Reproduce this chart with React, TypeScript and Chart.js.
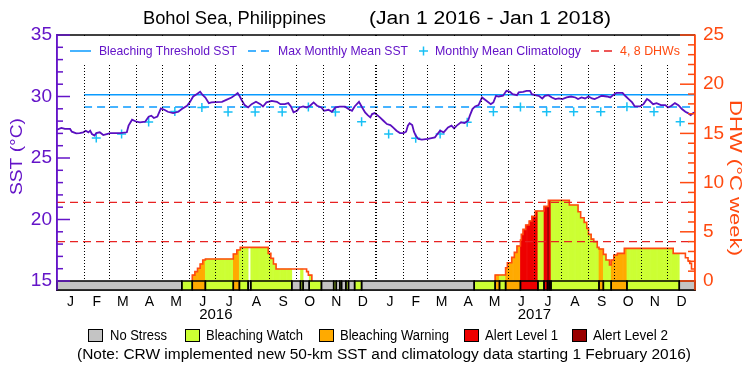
import React, { useEffect, useRef } from 'react';
import { Chart, registerables } from 'chart.js';
Chart.register(...registerables);

const FF = '"Liberation Sans", Arial, sans-serif';

// ---- data (day index from Jan 1 2016) ----
const sstDay = [0,5,9,15,17,22,26,30,33,36,38,40,43,45,49,53,57,61,72,80,82,86,91,95,101,105,108,111,115,119,123,127,133,139,143,149,152,156,160,164,166,170,174,177,181,189,194,200,204,207,209,212,215,219,223,228,233,236,240,246,252,256,261,265,268,271,275,278,282,286,290,294,298,303,306,311,315,319,324,330,334,338,341,346,349,353,356,359,361,364,367,370,374,378,382,385,389,393,397,400,402,404,407,409,411,414,418,425,433,435,439,443,448,452,455,458,463,467,471,473,476,479,483,487,492,497,500,503,506,511,515,519,522,527,529,534,538,542,544,548,552,556,559,563,567,571,575,579,584,589,594,597,601,605,609,613,616,620,624,630,634,637,641,648,651,655,659,662,668,672,676,679,683,687,692,697,700,704,708,712,716,720,723,726,729,731];
const sstVal = [27.30,27.44,27.36,27.36,27.14,27.00,27.03,27.09,27.22,27.09,27.22,26.95,26.82,27.03,27.09,26.87,26.95,27.03,27.03,27.09,27.63,28.11,27.95,27.90,27.95,28.36,28.44,28.25,28.36,29.03,28.92,28.76,28.65,28.76,28.98,29.25,29.52,30.00,30.19,30.38,30.19,29.92,29.46,29.52,29.55,29.57,29.73,29.92,30.11,30.28,30.06,29.65,29.30,29.11,29.38,29.57,29.38,29.19,29.52,29.65,29.57,29.38,29.38,29.46,29.19,28.71,28.84,29.11,29.19,29.11,29.25,29.52,29.25,29.11,28.84,28.92,28.76,29.11,29.17,29.17,28.98,28.84,29.19,29.57,29.19,28.71,28.49,28.30,28.57,28.65,28.49,28.30,28.03,27.76,27.68,27.49,27.22,27.03,27.03,27.14,27.63,27.82,27.68,27.14,26.82,26.55,26.49,26.55,26.68,26.87,27.22,27.09,27.49,27.63,27.41,27.63,27.90,27.84,28.03,28.44,28.98,29.19,29.30,29.92,29.65,29.38,29.52,30.06,30.00,30.06,30.46,30.38,30.19,30.11,30.33,30.38,30.46,30.46,30.19,30.11,30.06,29.84,30.06,30.11,29.92,29.79,29.84,29.79,29.92,30.00,29.92,29.79,29.92,29.84,30.00,29.84,29.79,29.92,30.06,30.00,29.92,30.11,30.30,30.30,30.06,29.79,29.52,29.19,29.19,29.38,29.79,29.65,29.38,29.46,29.30,29.30,29.11,29.25,29.46,29.30,28.98,28.76,28.65,28.49,28.65,28.71];

const climDay = [45,74,105,135,166,196,227,258,288,319,349,380,411,439,470,500,531,561,592,623,653,684,714];
const climVal = [26.62,26.95,27.92,28.78,29.10,28.73,28.73,28.73,29.15,28.73,27.95,26.95,26.60,26.95,27.90,28.76,29.15,28.76,28.76,28.76,29.17,28.76,27.95];

const thresholdSST = 30.15;
const mmmSST = 29.15;
const refStartDay = 31;
const dhwLevels = [4, 8];

const dhwDay = [155,155,158,161,164,167,170,202,206,210,242,245,248,251,286,288,292,400,502,502,514,516,521,524,527,531,532,534,537,541,544,548,558,563,587,597,600,604,607,609,612,615,619,621,626,629,633,635,638,642,650,706,720,723,725,727,731];
const dhwVal = [0,0.6,0.95,1.29,1.73,2.13,2.23,2.74,3.15,3.42,2.81,2.3,1.73,1.22,0.95,0.6,0,null,0,0.61,1.35,1.86,2.40,2.91,3.55,4.16,4.74,5.25,5.69,6.09,6.57,7.11,7.58,8.19,7.72,7.04,6.43,5.96,5.35,4.74,4.26,4.0,3.42,3.25,2.71,2.13,1.62,2.13,2.64,2.81,3.32,2.81,2.37,2.03,1.79,1.22,1.22];

const stressStart = [0,143,155,170,202,209,219,222,269,279,282,289,303,317,320,324,326,331,334,341,349,478,502,507,514,531,551,558,562,564,566,621,626,635,653,713];
const stressLevel = [0,1,2,1,2,1,0,1,0,1,0,1,0,1,0,1,0,1,0,1,0,1,2,1,2,3,1,3,4,3,1,2,1,2,1,0];
const stressNames = ['No Stress', 'Bleaching Watch', 'Bleaching Warning', 'Alert Level 1', 'Alert Level 2'];
const stressColors = ['#c4c4c4', '#ccff33', '#ffaa00', '#ee0000', '#990000'];

const monthStarts = [0,31,60,91,121,152,182,213,244,274,305,335,366,397,425,456,486,517,547,578,609,639,670,700,731];
const monthLetters = ['J','F','M','A','M','J','J','A','S','O','N','D','J','F','M','A','M','J','J','A','S','O','N','D'];
const yearLabels = ['2016', '2017'];
const yearMidDay = [182, 547];
const sstTicks = [15, 20, 25, 30, 35];
const dhwTicks = [0, 5, 10, 15, 20, 25];

const PURPLE = '#6414c8';
const SSTLINE = '#5a0fc0';
const ORANGE = '#ff4a10';
const BLUE = '#0a9bff';
const CROSS = '#18c0f5';
const DHWRED = '#e82222';

function fitText(ctx: CanvasRenderingContext2D, text: string, x: number, y: number, w: number, size: number, color: string) {
  ctx.save();
  ctx.font = `${size}px ${FF}`;
  ctx.fillStyle = color;
  ctx.textBaseline = 'middle';
  ctx.textAlign = 'left';
  const m = ctx.measureText(text).width;
  ctx.translate(x, y);
  ctx.scale(w / m, 1);
  ctx.fillText(text, 0, 0);
  ctx.restore();
}

function line(ctx: CanvasRenderingContext2D, x1: number, y1: number, x2: number, y2: number, color: string, w: number, dash: number[] = []) {
  ctx.save();
  ctx.strokeStyle = color;
  ctx.lineWidth = w;
  ctx.setLineDash(dash);
  ctx.beginPath();
  ctx.moveTo(x1, y1);
  ctx.lineTo(x2, y2);
  ctx.stroke();
  ctx.restore();
}

function dhwAt(d: number) {
  let v = 0;
  for (let i = 0; i < dhwDay.length; i++) {
    if (dhwDay[i] <= d) v = dhwVal[i] == null ? 0 : (dhwVal[i] as number);
  }
  return v;
}
function levelAt(d: number) {
  let l = 0;
  for (let i = 0; i < stressStart.length; i++) if (stressStart[i] <= d) l = stressLevel[i];
  return l;
}

const decor = {
  id: 'decor',
  afterDraw(chart: any) {
    const { ctx, chartArea: a, scales } = chart;
    const xs = scales.x, ys = scales.y, y2 = scales.y2;
    // legend area cover
    ctx.save();
    ctx.fillStyle = '#fff';
    ctx.fillRect(a.left + 1, a.top + 1, a.right - a.left - 2, 28);
    ctx.restore();
    // top frame
    line(ctx, a.left, a.top, a.right, a.top, '#000', 1.5);

    // stress bar
    const yTop = y2.getPixelForValue(0);
    const yBot = a.bottom;
    for (let i = 0; i < stressStart.length; i++) {
      const s = stressStart[i];
      const e = i + 1 < stressStart.length ? stressStart[i + 1] : xs.max;
      const x1 = xs.getPixelForValue(s), x2 = xs.getPixelForValue(e);
      ctx.fillStyle = stressColors[stressLevel[i]];
      ctx.fillRect(x1, yTop, x2 - x1, yBot - yTop);
    }
    ctx.save();
    ctx.strokeStyle = '#000';
    ctx.lineWidth = 1.5;
    for (let i = 0; i < stressStart.length; i++) {
      const s = stressStart[i];
      const e = i + 1 < stressStart.length ? stressStart[i + 1] : xs.max;
      const x1 = xs.getPixelForValue(s), x2 = xs.getPixelForValue(e);
      ctx.strokeRect(x1, yTop, x2 - x1, yBot - yTop);
    }
    ctx.restore();

    // inward axis ticks
    for (let v = 15; v <= 35; v++) {
      const y = ys.getPixelForValue(v);
      line(ctx, a.left, y, a.left + (v % 5 === 0 ? 13 : 6), y, PURPLE, 1.5);
    }
    for (let v = 0; v <= 25; v++) {
      const y = y2.getPixelForValue(v);
      line(ctx, a.right - (v % 5 === 0 ? 15 : 7), y, a.right, y, ORANGE, 1.5);
    }
    line(ctx, a.left, a.top, a.left, a.bottom, PURPLE, 1.5);
    line(ctx, a.right, a.top, a.right, a.bottom, ORANGE, 1.5);

    // title
    fitText(ctx, 'Bohol Sea, Philippines', 143, 19, 183, 18, '#000');
    fitText(ctx, '(Jan 1 2016 - Jan 1 2018)', 369, 19, 242, 18, '#000');

    // top legend
    const ly = 51;
    line(ctx, 70, ly, 91, ly, BLUE, 1.5);
    fitText(ctx, 'Bleaching Threshold SST', 99, ly, 138, 13, PURPLE);
    line(ctx, 248, ly, 272, ly, BLUE, 1.5, [8, 5]);
    fitText(ctx, 'Max Monthly Mean SST', 278, ly, 130, 13, PURPLE);
    line(ctx, 419, ly, 428, ly, CROSS, 1.5);
    line(ctx, 423.5, ly - 4.5, 423.5, ly + 4.5, CROSS, 1.5);
    fitText(ctx, 'Monthly Mean Climatology', 435, ly, 146, 13, PURPLE);
    line(ctx, 591, ly, 616, ly, DHWRED, 1.5, [8, 5]);
    fitText(ctx, '4, 8 DHWs', 620, ly, 60, 13, ORANGE);

    // axis titles
    ctx.save();
    ctx.translate(17, 157);
    ctx.rotate(-Math.PI / 2);
    fitText(ctx, 'SST (°C)', -38, 0, 77, 17, PURPLE);
    ctx.restore();
    ctx.save();
    ctx.translate(735, 178);
    ctx.rotate(Math.PI / 2);
    fitText(ctx, 'DHW (°C week)', -78, 0, 156, 17, ORANGE);
    ctx.restore();

    // year labels
    ctx.save();
    ctx.font = `15px ${FF}`;
    ctx.fillStyle = '#000';
    ctx.textAlign = 'center';
    ctx.textBaseline = 'middle';
    yearLabels.forEach((t, i) => ctx.fillText(t, xs.getPixelForValue(yearMidDay[i]), 315));
    ctx.restore();

    // bottom legend
    const boxX = [88, 185, 319, 464, 572];
    const txtX = [110, 206, 340, 485, 593];
    const txtW = [57, 97, 109, 73, 75];
    stressNames.forEach((n, i) => {
      ctx.save();
      ctx.fillStyle = stressColors[i];
      ctx.fillRect(boxX[i], 329, 14, 12);
      ctx.strokeStyle = '#000';
      ctx.lineWidth = 1;
      ctx.strokeRect(boxX[i] + 0.5, 329.5, 14, 12);
      ctx.restore();
      fitText(ctx, n, txtX[i], 336, txtW[i], 14, '#000');
    });
    fitText(ctx, '(Note: CRW implemented new 50-km SST and climatology data starting 1 February 2016)', 77, 355, 614, 14, '#000');
  },
};

export default function App() {
  const ref = useRef<HTMLCanvasElement>(null);
  useEffect(() => {
    const canvas = ref.current!;
    const sstData = sstDay.map((d, i) => ({ x: d, y: sstVal[i] }));
    const climData = climDay.map((d, i) => ({ x: d, y: climVal[i] }));
    const dhwData = dhwDay.map((d, i) => ({ x: d, y: dhwVal[i] }));
    const fillData: any[] = [];
    const fillColors: string[] = [];
    for (let d = 0; d < 731; d++) {
      const v = dhwAt(d);
      const l = levelAt(d);
      if (v > 0 && l > 0) {
        fillData.push({ x: d + 0.5, y: v });
        fillColors.push(stressColors[l]);
      }
    }
    const chart = new Chart(canvas, {
      type: 'line',
      data: {
        datasets: [
          { type: 'bar', data: fillData, xAxisID: 'x', yAxisID: 'y2', backgroundColor: fillColors, borderWidth: 0, barPercentage: 1, categoryPercentage: 1, grouped: false, order: 10 } as any,
          { data: dhwData, xAxisID: 'x', yAxisID: 'y2', stepped: 'before', borderColor: ORANGE, borderWidth: 1.6, pointRadius: 0, fill: false, spanGaps: false, order: 5 } as any,
          ...dhwLevels.map((lv) => ({ data: [{ x: 0, y: lv }, { x: 731, y: lv }], xAxisID: 'x', yAxisID: 'y2', borderColor: DHWRED, borderWidth: 1.3, borderDash: [8, 5], pointRadius: 0, fill: false, order: 4 })),
          { data: [{ x: refStartDay, y: thresholdSST }, { x: 731, y: thresholdSST }], xAxisID: 'x', yAxisID: 'y', borderColor: BLUE, borderWidth: 1.5, pointRadius: 0, fill: false, order: 3 },
          { data: [{ x: refStartDay, y: mmmSST }, { x: 731, y: mmmSST }], xAxisID: 'x', yAxisID: 'y', borderColor: BLUE, borderWidth: 1.5, borderDash: [8, 5], pointRadius: 0, fill: false, order: 3 },
          { data: climData, xAxisID: 'x', yAxisID: 'y', showLine: false, pointStyle: 'cross', pointRadius: 4.5, pointBorderWidth: 1.5, pointBorderColor: CROSS, pointBackgroundColor: CROSS, order: 1 } as any,
          { data: sstData, xAxisID: 'x', yAxisID: 'y', borderColor: SSTLINE, borderWidth: 1.8, pointRadius: 0, fill: false, tension: 0, order: 0 },
        ],
      },
      options: {
        responsive: false,
        devicePixelRatio: 1,
        animation: false,
        layout: { padding: { top: 35, left: 0, right: 0, bottom: 0 } },
        plugins: { legend: { display: false }, title: { display: false }, tooltip: { enabled: false } },
        scales: {
          x: {
            type: 'linear', min: 0, max: 731, offset: false, position: 'bottom',
            afterBuildTicks: (s: any) => { s.ticks = monthStarts.slice(0, -1).map((v, i) => ({ value: (v + monthStarts[i + 1]) / 2 })); },
            afterFit: (s: any) => { s.height = 85; },
            grid: { display: false, drawTicks: false, offset: false },
            border: { display: true, color: '#000', width: 1.5 },
            ticks: { autoSkip: false, maxRotation: 0, minRotation: 0, padding: 4, color: '#000', font: { family: FF, size: 14 }, callback: (_v: any, i: number) => monthLetters[i] },
          },
          x2: {
            type: 'linear', min: 0, max: 731, offset: false, position: 'top',
            afterBuildTicks: (s: any) => { s.ticks = monthStarts.slice(1, -1).map((v) => ({ value: v })); },
            afterFit: (s: any) => { s.height = 0; },
            ticks: { display: false },
            grid: { display: true, drawTicks: false, offset: false, color: '#000', lineWidth: (c: any) => (c.tick && c.tick.value === 366 ? 2 : 1), z: 1 },
            border: { display: false, dash: [1, 2] },
          },
          y: {
            type: 'linear', position: 'left', min: 14.268, max: 35,
            afterBuildTicks: (s: any) => { s.ticks = sstTicks.map((v) => ({ value: v })); },
            afterFit: (s: any) => { s.width = 57; },
            grid: { display: false, drawTicks: false },
            border: { display: true, color: PURPLE, width: 1.5 },
            ticks: { color: PURPLE, padding: 5, font: { family: FF, size: 19 } },
          },
          y2: {
            type: 'linear', position: 'right', min: -0.915, max: 25,
            afterBuildTicks: (s: any) => { s.ticks = dhwTicks.map((v) => ({ value: v })); },
            afterFit: (s: any) => { s.width = 55; },
            grid: { display: false, drawTicks: false },
            border: { display: true, color: ORANGE, width: 1.5 },
            ticks: { color: ORANGE, padding: 8, font: { family: FF, size: 19 } },
          },
        },
      } as any,
      plugins: [decor],
    });
    return () => chart.destroy();
  }, []);
  return (
    <div style={{ position: 'fixed', left: 0, top: 0, width: 750, height: 375, background: '#fff' }}>
      <canvas ref={ref} width={750} height={375} style={{ display: 'block', width: 750, height: 375 }} />
    </div>
  );
}
